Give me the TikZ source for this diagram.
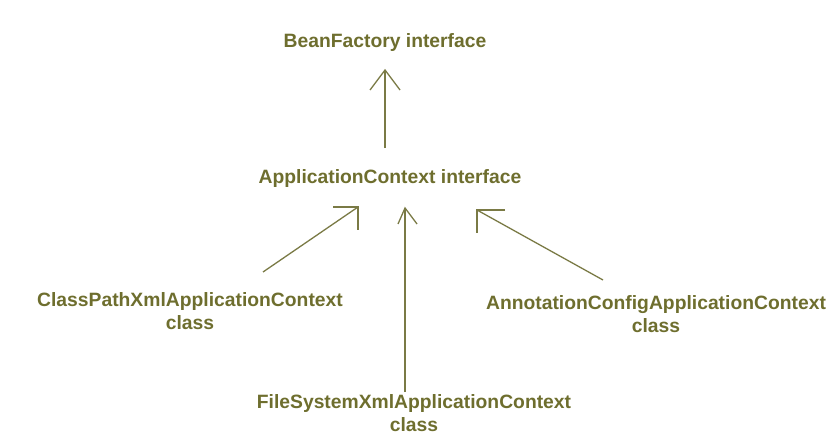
\documentclass[tikz,border=0pt]{standalone}
\usepackage{fontspec}
\setmainfont{Liberation Sans}
\definecolor{olivetxt}{HTML}{6E6E2E}
\definecolor{oliveln}{HTML}{7A7A45}
\begin{document}
\begin{tikzpicture}[x=1pt,y=-1pt,
  lbl/.style={text=olivetxt,font=\bfseries\fontsize{19.3}{22.5}\selectfont,align=center,inner sep=0pt},
  ln/.style={draw=oliveln,line width=1.3pt}]
\useasboundingbox (0,0) rectangle (832,436);
\node[lbl] (bf) at (385,43) {BeanFactory interface};
\node[lbl] (ac) at (390,179) {ApplicationContext interface};
\node[lbl] (cp) at (190,311) {ClassPathXmlApplicationContext\\class};
\node[lbl] (an) at (656,314) {AnnotationConfigApplicationContext\\class};
\node[lbl] (fs) at (414,413) {FileSystemXmlApplicationContext\\class};
% arrow 1
\coordinate (t1) at (385,70);
\coordinate (s1) at (385,148);
\draw[ln] (s1) -- (t1);
\draw[ln] (370,90) -- (t1) -- (400,90);
% left
\coordinate (t2) at (358,207);
\coordinate (s2) at (263,272);
\draw[ln] (s2) -- (t2);
\draw[ln] (333,207) -- (t2) -- (358,230);
% middle
\coordinate (t3) at (405,208);
\coordinate (s3) at (405,392);
\draw[ln] (s3) -- (t3);
\draw[ln] (398,224) -- (t3) -- (417,224);
% right
\coordinate (t4) at (477,210);
\coordinate (s4) at (603,280);
\draw[ln] (s4) -- (t4);
\draw[ln] (505,210) -- (t4) -- (477,233);
\end{tikzpicture}
\end{document}
